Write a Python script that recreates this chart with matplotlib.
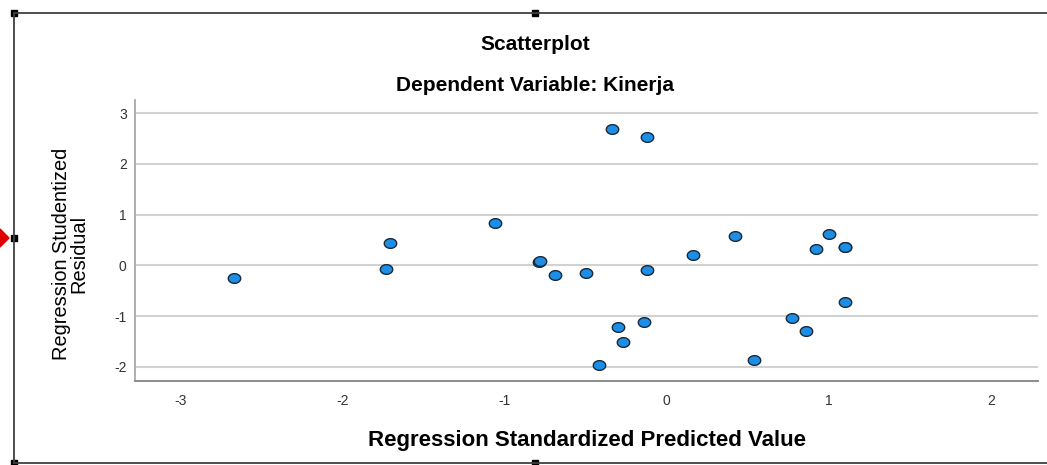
import numpy as np
import matplotlib.pyplot as plt
from matplotlib.lines import Line2D
from matplotlib.patches import Rectangle, Polygon
from matplotlib.path import Path

# Regression standardized predicted value vs studentized residual
pred = [-2.67, -1.71, -1.73, -1.06, -0.79, -0.78, -0.69, -0.50,
        -0.34, -0.12, -0.12, -0.30, -0.14, -0.27, -0.42,
        0.16, 0.42, 0.54, 1.00, 0.92, 1.10, 1.10, 1.10, 0.77, 0.86]
resid = [-0.24, 0.44, -0.07, 0.83, 0.07, 0.08, -0.19, -0.145,
         2.69, 2.54, -0.10, -1.21, -1.12, -1.51, -1.97,
         0.21, 0.58, -1.87, 0.62, 0.32, 0.36, 0.37, -0.72, -1.04, -1.30]
xticks = [-3, -2, -1, 0, 1, 2]
yticks = [-2, -1, 0, 1, 2, 3]

plt.rcParams['font.family'] = ['Liberation Sans', 'DejaVu Sans']

# slightly flattened circle, like the SPSS output
theta = np.linspace(0, 2 * np.pi, 60)
ellipse = Path(np.column_stack([np.cos(theta), 0.78 * np.sin(theta)]), closed=True)

fig = plt.figure(figsize=(10.47, 4.65), dpi=100)
ax = fig.add_axes([135/1047, 84/465, 903/1047, 281/465])

ax.scatter(pred, resid, s=80, marker=ellipse, color='#1c8ee6',
           edgecolors='#1a2a3a', linewidths=1.0, zorder=3)

ax.set_xlim(-3.28, 2.29)
ax.set_ylim(-2.28, 3.26)
ax.set_xticks(xticks)
ax.set_yticks(yticks)
ax.set_xticklabels([str(t) for t in xticks])
ax.set_yticklabels([str(t) for t in yticks])
ax.tick_params(axis='x', length=0, pad=9, labelsize=10, labelcolor='#333333')
ax.tick_params(axis='y', length=0, pad=6, labelsize=10, labelcolor='#333333')
ax.grid(axis='y', color='#d2d2d2', linewidth=1.5)
ax.set_axisbelow(True)
for side in ['top', 'right']:
    ax.spines[side].set_visible(False)
ax.spines['left'].set_color('#a8a8a8')
ax.spines['left'].set_linewidth(1.3)
ax.spines['bottom'].set_color('#909090')
ax.spines['bottom'].set_linewidth(1.5)

ax.set_xlabel('Regression Standardized Predicted Value', fontsize=16,
              fontweight='bold', labelpad=16)
ax.set_ylabel('Regression Studentized\nResidual', fontsize=14.4,
              linespacing=0.9)
ax.yaxis.set_label_coords(-0.052, 0.452)

fig.text(535/1047, 1 - 45/465, 'Scatterplot', ha='center', va='center',
         fontsize=15, fontweight='bold')
fig.text(535/1047, 1 - 85/465, 'Dependent Variable: Kinerja', ha='center',
         va='center', fontsize=15, fontweight='bold')

# outer selection frame
W, H = 1047, 465
fx = lambda px: px / W
fy = lambda py: 1 - py / H
fig.add_artist(Line2D([fx(14), 1], [fy(13), fy(13)], color='#404040', lw=1.3))
fig.add_artist(Line2D([fx(14), 1], [fy(463), fy(463)], color='#404040', lw=1.3))
fig.add_artist(Line2D([fx(14), fx(14)], [fy(13), fy(463)], color='#404040', lw=1.3))
for hx, hy in [(14, 13), (535, 13), (14, 238), (14, 463), (535, 463)]:
    fig.add_artist(Rectangle((fx(hx - 3), fy(hy + 3)), 6 / W, 6 / H,
                             color='black', transform=fig.transFigure))
fig.add_artist(Polygon([[fx(0), fy(229)], [fx(9), fy(238)], [fx(0), fy(247)]],
                       closed=True, color='#e00000', transform=fig.transFigure))

fig.savefig('out.png', dpi=100)
